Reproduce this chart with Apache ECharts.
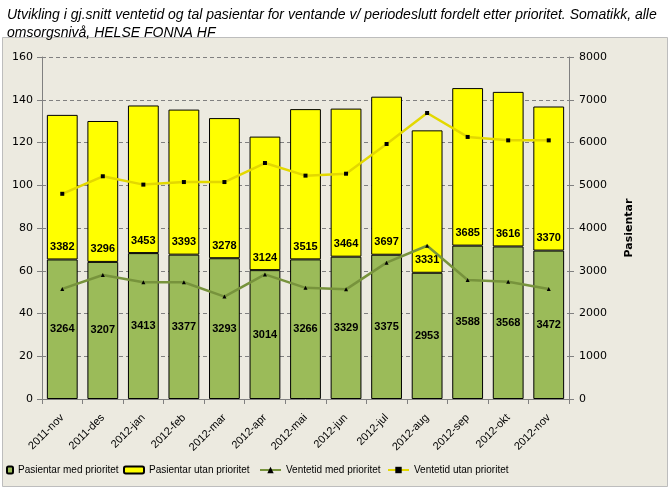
<!DOCTYPE html>
<html><head><meta charset="utf-8">
<script src="https://cdn.jsdelivr.net/npm/echarts@6/dist/echarts.min.js"></script>
<style>html,body{margin:0;padding:0;background:#fff}#c{width:670px;height:490px}</style>
</head><body><div id="c"></div>
<script>
const categories = ['2011-nov','2011-des','2012-jan','2012-feb','2012-mar','2012-apr','2012-mai','2012-jun','2012-jul','2012-aug','2012-sep','2012-okt','2012-nov'];
const pasientarMed = [3264,3207,3413,3377,3293,3014,3266,3329,3375,2953,3588,3568,3472];
const pasientarUtan = [3382,3296,3453,3393,3278,3124,3515,3464,3697,3331,3685,3616,3370];
const ventetidMed = [51.5,58,54.6,54.6,47.9,58.3,52,51.3,63.8,71.7,55.7,54.9,51.5];
const ventetidUtan = [96,104.2,100.3,101.5,101.5,110.4,104.5,105.4,119.3,133.8,122.6,121,121];
const leftTicks = {min:0,max:160,interval:20};
const rightTicks = {min:0,max:8000,interval:1000};

const chart = echarts.init(document.getElementById('c'));
const axisFont = {fontFamily:'DejaVu Sans',fontSize:11,color:'#000'};
const legFont = {fontFamily:'Liberation Sans',fontSize:10,color:'#000'};
chart.setOption({
  animation:false,
  backgroundColor:'#fff',
  graphic:[{type:'rect',z:-10,silent:true,shape:{x:2.5,y:37.5,width:665,height:449},style:{fill:'#ECEAE0',stroke:'#BDBDBD',lineWidth:1}}],
  title:{text:'Utvikling i gj.snitt ventetid og tal pasientar for ventande v/ periodeslutt fordelt etter prioritet. Somatikk, alle\nomsorgsnivå, HELSE FONNA HF',
    left:2,top:1,textStyle:{fontFamily:'Liberation Sans',fontStyle:'italic',fontWeight:'normal',fontSize:14,lineHeight:18,color:'#000'}},
  grid:{left:42,right:101,top:57,bottom:91,containLabel:false},
  legend:[
    {left:1,top:460,itemWidth:6,itemHeight:7,itemGap:0,textStyle:legFont,data:['Pasientar med prioritet']},
    {left:118,top:460,itemWidth:20,itemHeight:7,textStyle:legFont,data:['Pasientar utan prioritet']},
    {left:254,top:460,itemWidth:21,itemHeight:8,textStyle:legFont,data:['Ventetid med prioritet']},
    {left:382,top:460,itemWidth:21,itemHeight:8,textStyle:legFont,data:['Ventetid utan prioritet']}
  ],
  xAxis:{type:'category',data:categories,boundaryGap:true,
    axisLine:{lineStyle:{color:'#808080'}},
    axisTick:{show:true,length:5,lineStyle:{color:'#808080'}},
    axisLabel:{interval:0,rotate:45,margin:17,fontFamily:'Liberation Sans',fontSize:11,color:'#000'}},
  yAxis:[
    {type:'value',min:leftTicks.min,max:leftTicks.max,interval:leftTicks.interval,
      axisLine:{show:true,lineStyle:{color:'#808080'}},axisTick:{show:true,length:5,lineStyle:{color:'#808080'}},
      axisLabel:Object.assign({margin:9},axisFont),
      splitLine:{show:true,lineStyle:{color:'#808080',type:[4,3]}}},
    {type:'value',min:rightTicks.min,max:rightTicks.max,interval:rightTicks.interval,position:'right',
      name:'Pasientar',nameLocation:'middle',nameGap:55,nameRotate:90,
      nameTextStyle:{fontFamily:'DejaVu Sans',fontWeight:'bold',fontSize:11,color:'#000'},
      axisLine:{show:true,lineStyle:{color:'#808080'}},axisTick:{show:true,length:5,lineStyle:{color:'#808080'}},
      axisLabel:Object.assign({margin:10,formatter:function(v){return String(v);}},axisFont),splitLine:{show:false}}
  ],
  series:[
    {name:'Pasientar med prioritet',type:'bar',stack:'p',yAxisIndex:1,data:pasientarMed,barCategoryGap:'24%',
      itemStyle:{color:'#9BBB59',borderColor:'#000',borderWidth:1},
      label:{show:true,position:'inside',fontFamily:'Liberation Sans',fontWeight:'bold',fontSize:11,color:'#000'}},
    {name:'Pasientar utan prioritet',type:'bar',stack:'p',yAxisIndex:1,data:pasientarUtan,barCategoryGap:'24%',
      itemStyle:{color:'#FFFF00',borderColor:'#000',borderWidth:1},
      label:{show:true,position:'insideBottom',distance:7,fontFamily:'Liberation Sans',fontWeight:'bold',fontSize:11,color:'#000'}},
    {name:'Ventetid med prioritet',type:'line',yAxisIndex:0,data:ventetidMed,z:5,
      symbol:'triangle',symbolSize:4,showAllSymbol:true,
      lineStyle:{color:'#77933C',width:2.5},itemStyle:{color:'#000'}},
    {name:'Ventetid utan prioritet',type:'line',yAxisIndex:0,data:ventetidUtan,z:5,
      symbol:'rect',symbolSize:4,showAllSymbol:true,
      lineStyle:{color:'#E3D800',width:2.5},itemStyle:{color:'#000'}}
  ]
});
</script></body></html>
